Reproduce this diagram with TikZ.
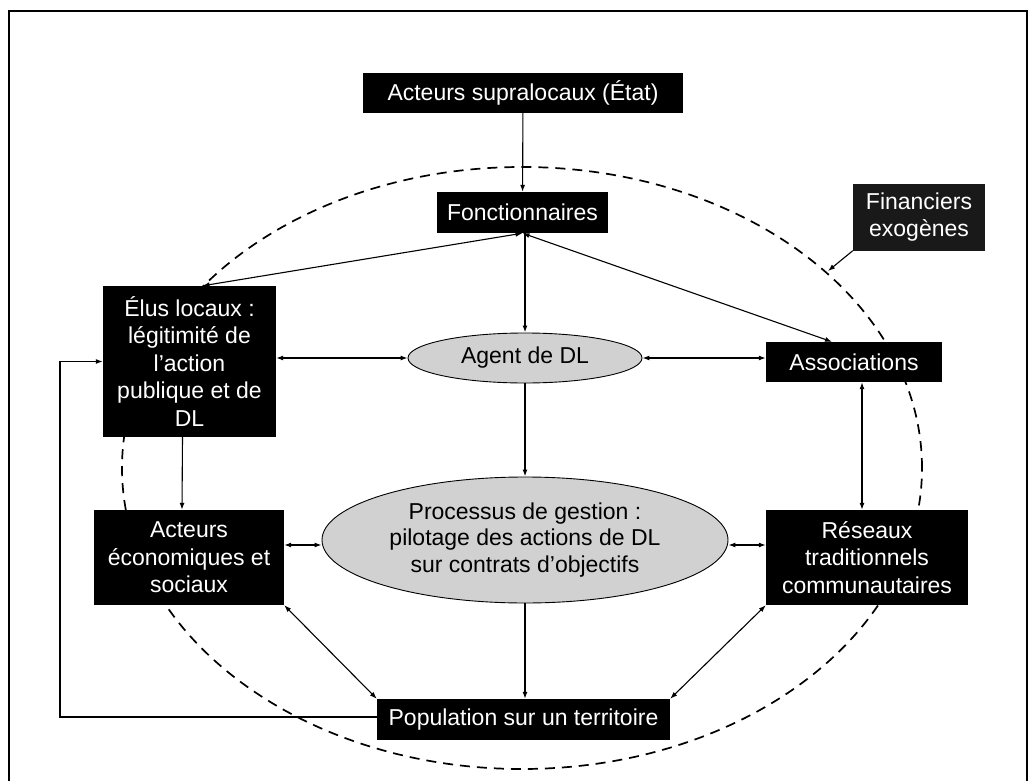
\documentclass[tikz,border=0pt]{standalone}
\usepackage{fontspec}
\setmainfont{Liberation Sans}
\usetikzlibrary{arrows.meta,shapes.geometric,calc}

\tikzset{
  blackbox/.style={draw=none, fill=black, text=white, inner sep=0pt,
    align=center, font=\fontsize{23}{27.5}\selectfont},
  greyoval/.style={ellipse, draw=black, line width=0.9pt, fill=gray!36,
    inner sep=0pt, align=center, font=\fontsize{23}{26.5}\selectfont},
  link/.style={line width=1.1pt},
  heavylink/.style={line width=1.9pt},
  tip/.tip={Latex[length=7pt,width=5pt]},
  oneway/.style={link, -tip},
  twoway/.style={link, tip-tip},
  perimeter/.style={line width=1.7pt, dash pattern=on 10pt off 7pt},
}

\begin{document}
\begin{tikzpicture}[x=1pt, y=-1pt]
  \useasboundingbox (0,0) rectangle (1036,781);

  % outer frame
  \draw[line width=1.4pt] (9,781) -- (9,11) -- (1027,11) -- (1027,781);

  % territory boundary
  \draw[perimeter] (522,468) ellipse [x radius=400pt, y radius=301pt];
  \coordinate (edge) at (828,271);

  % actors
  \node[blackbox, minimum width=320pt, minimum height=40pt] (etat) at (523,93)
    {Acteurs supralocaux (État)};
  \node[blackbox, minimum width=171pt, minimum height=41pt] (fon) at (522.5,212.5)
    {Fonctionnaires};
  \node[blackbox, fill=black!90, minimum width=132pt, minimum height=67pt] (fin) at (919,217)
    {Financiers\\exogènes};
  \node[blackbox, minimum width=173pt, minimum height=151pt] (elus) at (189.5,361.5)
    {Élus locaux :\\légitimité de\\l’action\\publique et de\\DL};
  \node[greyoval, minimum width=234pt, minimum height=50pt] (agent) at (525,358)
    {Agent de DL};
  \node[blackbox, minimum width=176pt, minimum height=40pt] (asso) at (854,362)
    {Associations};
  \node[greyoval, minimum width=406pt, minimum height=126pt] (proc) at (525,540)
    {Processus de gestion :\\pilotage des actions de DL\\sur contrats d’objectifs};
  \node[blackbox, minimum width=190pt, minimum height=95pt] (eco) at (189,557.5)
    {Acteurs\\économiques et\\sociaux};
  \node[blackbox, minimum width=202pt, minimum height=95pt] (res) at (867,557.5)
    {Réseaux\\traditionnels\\communautaires};
  \node[blackbox, minimum width=293pt, minimum height=41pt] (pop) at (523.5,719.5)
    {Population sur un territoire};

  \coordinate (loop) at (60,540);

  % connectors
  \draw[oneway] (etat) -- (fon);
  \draw[twoway] (fon.south) -- ($(elus.north)+(13,0)$);
  \draw[twoway] (fon.south) -- ($(asso.north)+(-22,0)$);
  \draw[heavylink, -tip] (agent.north |- fon.south) -- (agent.north);
  \draw[heavylink, -tip] (agent.south) -- (proc.north);
  \draw[twoway] (elus.east |- agent.west) -- (agent.west);
  \draw[twoway] (agent.east) -- (asso.west |- agent.east);
  \draw[oneway] ($(elus.south)+(-7,0)$) -- ($(eco.north)+(-7,0)$);
  \draw[twoway] ($(eco.east)+(0,-12.5)$) -- ($(proc.west)+(0,5)$);
  \draw[twoway] ($(proc.east)+(0,5)$) -- ($(res.west)+(0,-12.5)$);
  \draw[twoway] ($(asso.south)+(8,0)$) -- ($(res.north)+(-5,0)$);
  \draw[oneway] (proc.south) -- (proc.south |- pop.north);
  \draw[twoway] (eco.south east) -- (pop.north west);
  \draw[twoway] (res.south west) -- (pop.north east);
  \draw[oneway] ($(pop.west)+(0,-2.5)$) -| (loop) |- (elus.west);
  \draw[oneway] (fin.south west) -- (edge);
\end{tikzpicture}
\end{document}
